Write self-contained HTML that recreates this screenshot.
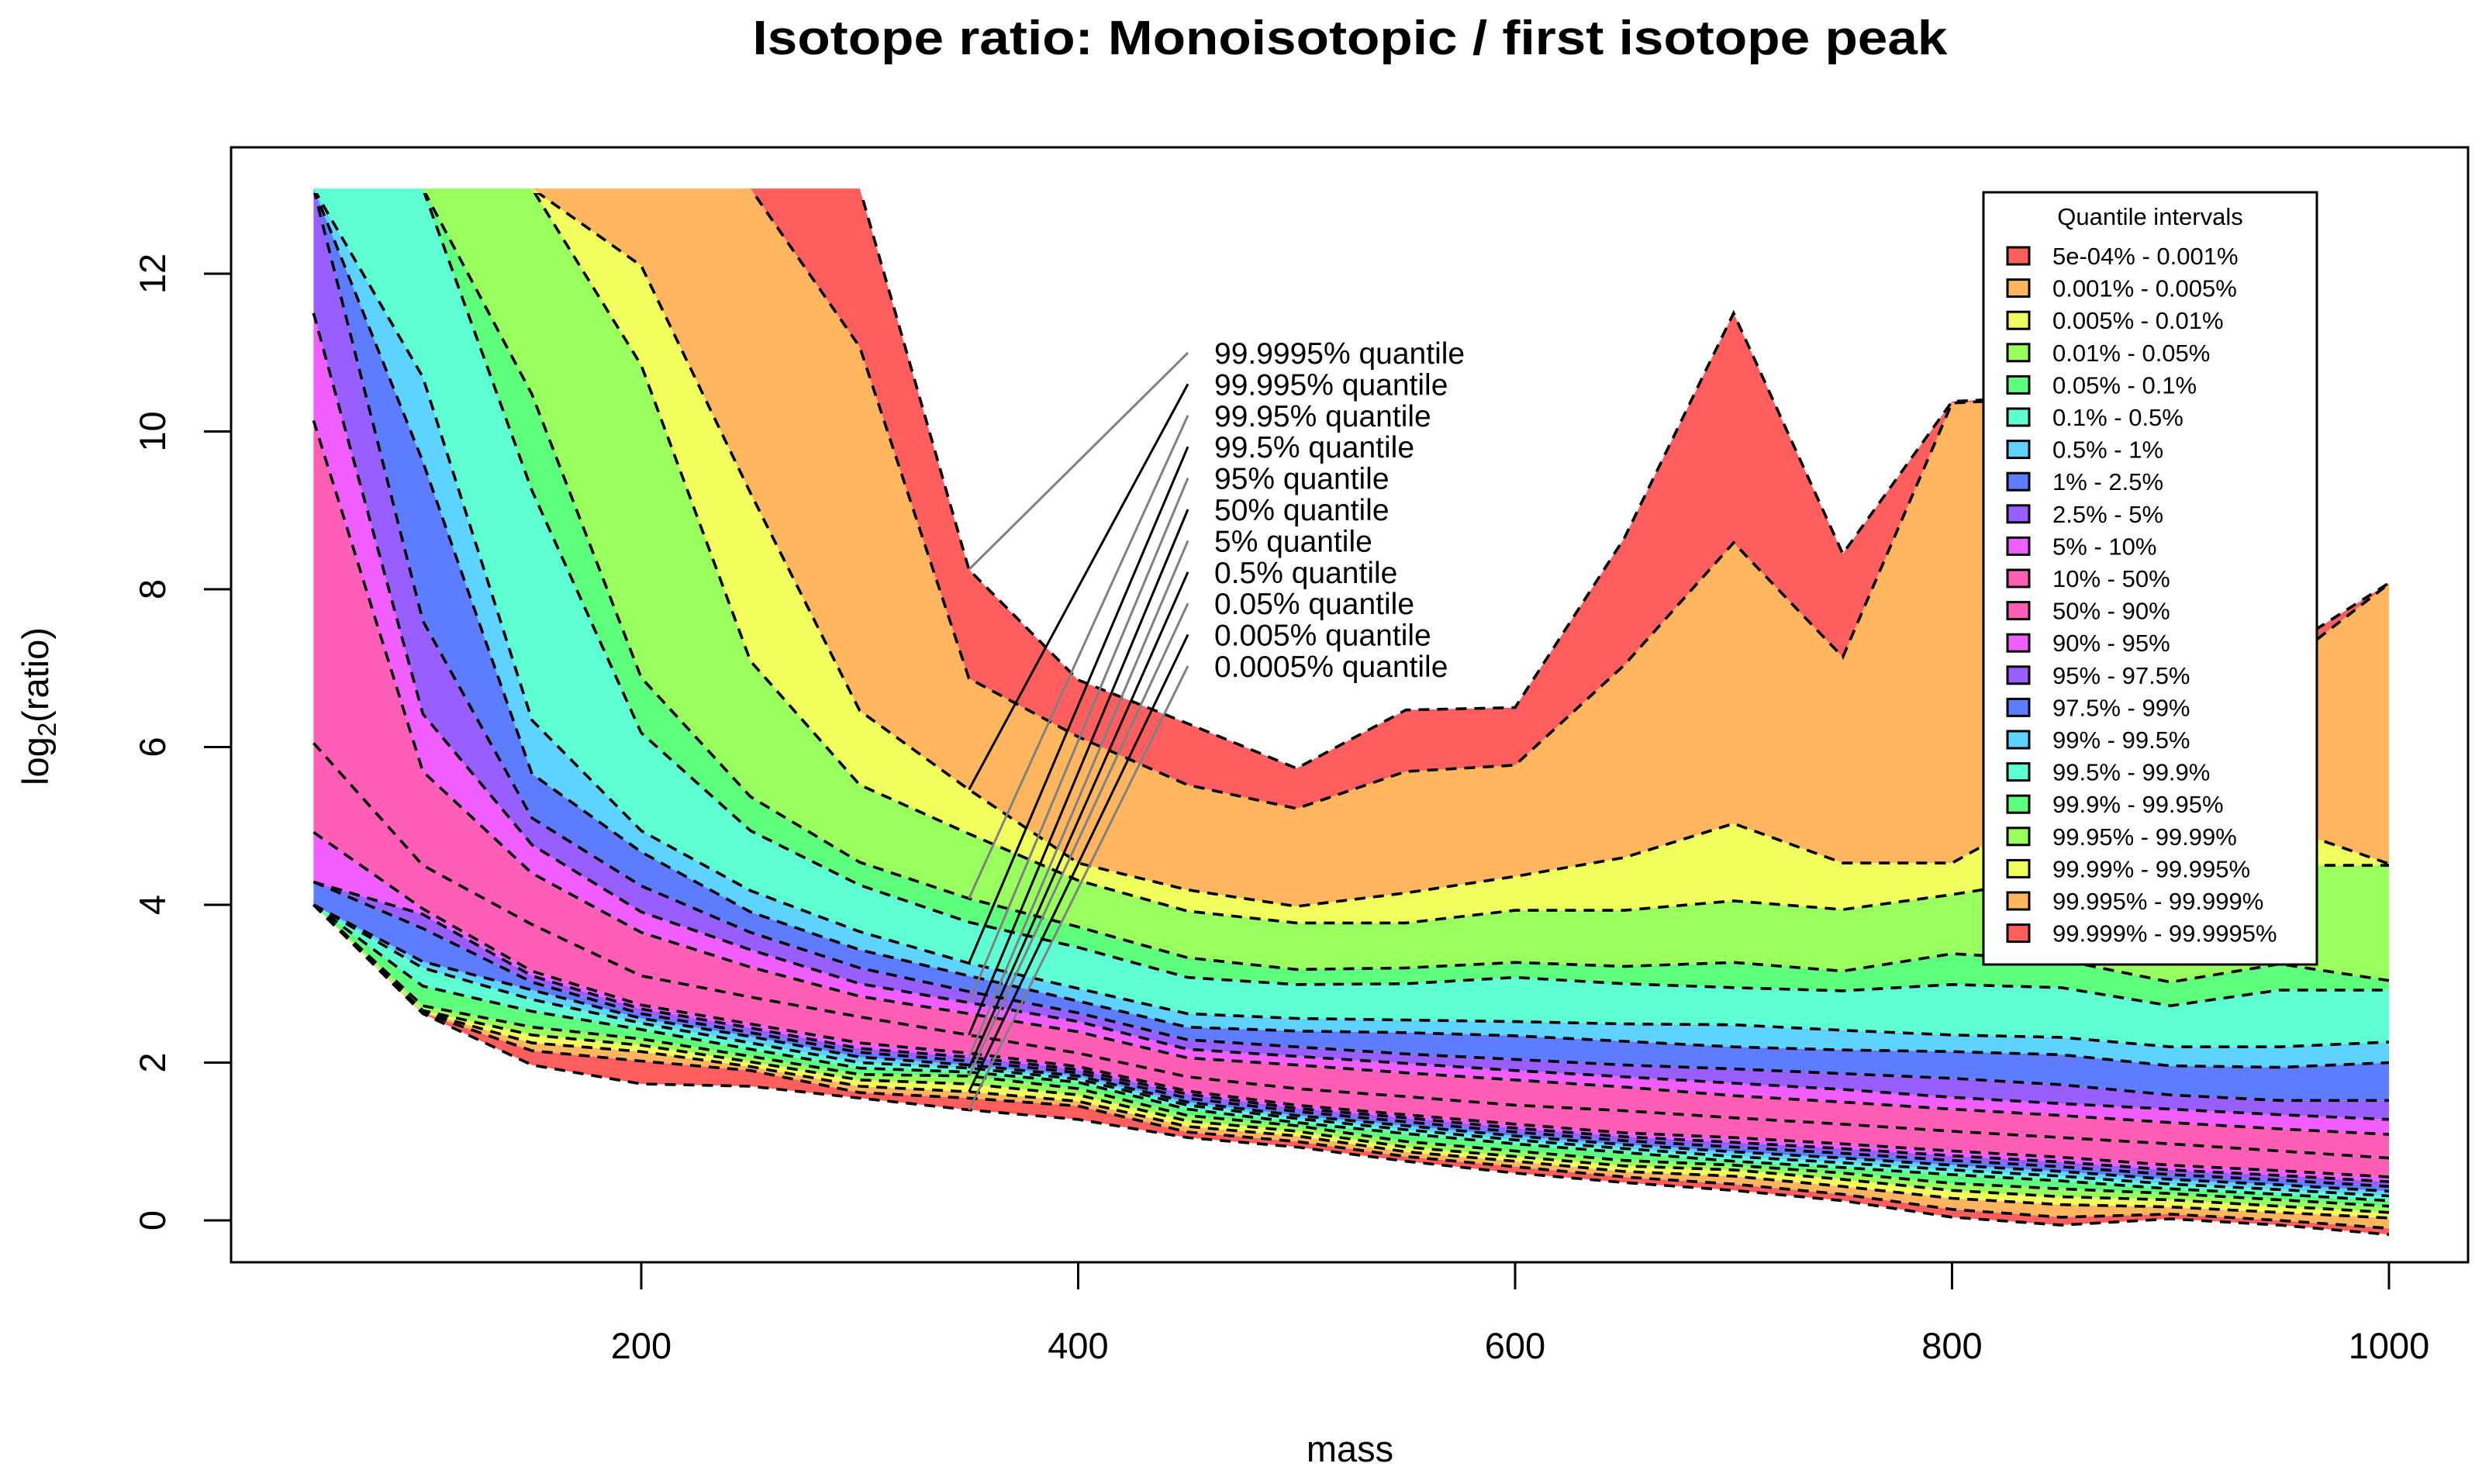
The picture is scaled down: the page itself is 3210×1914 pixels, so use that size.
<!DOCTYPE html>
<html><head><meta charset="utf-8"><title>Isotope ratio chart</title>
<style>html,body{margin:0;padding:0;background:#fff;}svg{display:block;font-family:"Liberation Sans",Arial,sans-serif;}</style>
</head><body>
<svg id="chart" xmlns="http://www.w3.org/2000/svg" width="3210" height="1914" viewBox="0 0 3210 1914">
<rect x="0" y="0" width="3210" height="1914" fill="#fff"/>
<defs>
<clipPath id="plotclip"><rect x="298" y="190" width="2885" height="1438"/></clipPath>
<clipPath id="lineclip"><rect x="298" y="249" width="2885" height="1379"/></clipPath>
</defs>
<text x="1741" y="70" text-anchor="middle" font-size="62" font-weight="bold" textLength="1541" lengthAdjust="spacingAndGlyphs">Isotope ratio: Monoisotopic / first isotope peak</text>
<g id="bands" clip-path="url(#plotclip)"></g>
<g id="lines" clip-path="url(#lineclip)"></g>
<g id="annot"></g>
<rect x="298" y="190" width="2885" height="1438" fill="none" stroke="#000" stroke-width="3"/>
<g id="xaxis"></g>
<g id="yaxis"></g>
<text x="1741" y="1885" text-anchor="middle" font-size="47">mass</text>
<text transform="translate(62,911) rotate(-90)" text-anchor="middle" font-size="47">log<tspan font-size="33" dy="10">2</tspan><tspan dy="-10">(ratio)</tspan></text>
<g id="legend"></g>
</svg>
<script>
const masses = [50,100,150,200,250,300,350,400,450,500,550,600,650,700,750,800,850,900,950,1000];
const q0 = [4.0,2.62,1.97,1.73,1.7,1.55,1.4,1.28,1.05,0.93,0.75,0.6,0.48,0.38,0.25,0.04,-0.06,0.02,-0.06,-0.18];
const q1 = [4.0,2.63,2.15,2.02,1.9,1.62,1.55,1.45,1.12,1.0,0.81,0.68,0.55,0.46,0.33,0.14,0.04,0.08,0.0,-0.1];
const q2 = [4.0,2.64,2.25,2.14,1.95,1.7,1.63,1.51,1.19,1.07,0.87,0.75,0.62,0.56,0.43,0.28,0.2,0.17,0.1,0.03];
const q3 = [4.0,2.66,2.35,2.22,2.01,1.78,1.73,1.59,1.26,1.13,0.93,0.81,0.69,0.64,0.52,0.38,0.3,0.26,0.18,0.1];
const q4 = [4.0,2.72,2.45,2.3,2.08,1.85,1.83,1.67,1.33,1.2,1.0,0.88,0.76,0.7,0.6,0.47,0.4,0.34,0.26,0.18];
const q5 = [4.0,2.97,2.65,2.42,2.17,1.93,1.88,1.75,1.41,1.24,1.1,0.97,0.86,0.75,0.67,0.58,0.5,0.4,0.33,0.25];
const q6 = [4.0,3.2,2.8,2.5,2.25,2.0,1.93,1.79,1.46,1.29,1.15,1.02,0.91,0.81,0.73,0.64,0.56,0.46,0.39,0.31];
const q7 = [4.0,3.28,2.92,2.56,2.33,2.07,1.97,1.83,1.5,1.33,1.2,1.07,0.96,0.87,0.79,0.7,0.62,0.52,0.45,0.37];
const q8 = [4.29,3.7,3.02,2.62,2.38,2.13,2.02,1.87,1.55,1.38,1.25,1.12,1.01,0.93,0.85,0.76,0.68,0.58,0.51,0.43];
const q9 = [4.29,3.88,3.1,2.68,2.44,2.18,2.07,1.91,1.6,1.42,1.3,1.17,1.06,0.99,0.91,0.82,0.74,0.64,0.57,0.49];
const q10 = [4.92,3.95,3.16,2.73,2.49,2.25,2.12,1.95,1.64,1.46,1.34,1.22,1.11,1.05,0.97,0.88,0.8,0.7,0.63,0.55];
const q11 = [6.05,4.5,3.75,3.1,2.83,2.58,2.35,2.12,1.82,1.67,1.57,1.46,1.39,1.3,1.22,1.13,1.05,0.97,0.88,0.79];
const q12 = [10.14,5.69,4.4,3.65,3.21,2.84,2.62,2.39,2.06,1.97,1.87,1.78,1.69,1.58,1.5,1.41,1.33,1.24,1.16,1.09];
const q13 = [11.5,6.42,4.76,3.91,3.43,3.0,2.76,2.52,2.17,2.08,1.99,1.9,1.82,1.74,1.66,1.56,1.48,1.41,1.34,1.28];
const q14 = [13.08,7.6,5.1,4.24,3.65,3.2,2.9,2.63,2.29,2.2,2.11,2.04,1.97,1.92,1.86,1.8,1.72,1.59,1.52,1.52];
const q15 = [13.08,9.62,5.66,4.67,3.91,3.43,3.1,2.78,2.45,2.4,2.38,2.34,2.27,2.2,2.16,2.14,2.1,1.96,1.94,2.0];
const q16 = [13.08,10.69,6.34,4.94,4.18,3.66,3.26,2.94,2.62,2.56,2.54,2.52,2.49,2.48,2.41,2.35,2.32,2.2,2.2,2.26];
const q17 = [13.08,13.08,9.25,6.18,4.94,4.25,3.78,3.46,3.08,2.99,3.0,3.08,3.0,2.95,2.91,2.99,2.95,2.72,2.92,2.92];
const q18 = [13.08,13.08,10.47,6.88,5.37,4.54,4.08,3.72,3.33,3.18,3.2,3.27,3.22,3.27,3.16,3.38,3.3,3.02,3.25,3.04];
const q19 = [13.08,13.08,13.08,10.84,7.09,5.52,4.9,4.31,3.92,3.77,3.77,3.93,3.93,4.05,3.94,4.13,4.35,4.45,4.5,4.5];
const q20 = [13.08,13.08,13.08,12.1,9.22,6.46,5.46,4.53,4.19,3.98,4.15,4.36,4.6,5.03,4.53,4.53,5.3,5.2,5.0,4.52];
const q21 = [13.08,13.08,13.08,13.08,13.08,11.07,6.87,6.13,5.52,5.22,5.69,5.77,7.04,8.59,7.14,10.36,10.43,8.9,7.0,8.07];
const q22 = [13.08,13.08,13.08,13.08,13.08,13.08,8.25,6.85,6.3,5.73,6.47,6.5,8.65,11.5,8.45,10.38,10.45,9.0,7.2,8.08];
const quantileSeries = [q0,q1,q2,q3,q4,q5,q6,q7,q8,q9,q10,q11,q12,q13,q14,q15,q16,q17,q18,q19,q20,q21,q22];
const intervalLabels = ["5e-04% - 0.001%","0.001% - 0.005%","0.005% - 0.01%","0.01% - 0.05%","0.05% - 0.1%","0.1% - 0.5%","0.5% - 1%","1% - 2.5%","2.5% - 5%","5% - 10%","10% - 50%","50% - 90%","90% - 95%","95% - 97.5%","97.5% - 99%","99% - 99.5%","99.5% - 99.9%","99.9% - 99.95%","99.95% - 99.99%","99.99% - 99.995%","99.995% - 99.999%","99.999% - 99.9995%"];
const annotLabels = ["99.9995% quantile","99.995% quantile","99.95% quantile","99.5% quantile","95% quantile","50% quantile","5% quantile","0.5% quantile","0.05% quantile","0.005% quantile","0.0005% quantile"];
const annotIndex = [22,20,18,16,13,11,9,6,4,2,0];
const annotMass = 350;
const xTicks = [200,400,600,800,1000];
const yTicks = [0,2,4,6,8,10,12];
const palette = ["#FF5E5E","#FFB65E","#F0FF5E","#99FF5E","#5EFF7C","#5EFFD3","#5ED3FF","#5E7CFF","#995EFF","#F05EFF","#FF5EB6"];

const NS = "http://www.w3.org/2000/svg";
function xS(m){ return 827 + (m - 200) * (3081 - 827) / 800; }
function yS(v){ return 1574 - v * (1574 - 353) / 12; }
function mk(tag, attrs, parent){ const e = document.createElementNS(NS, tag); for (const k in attrs) e.setAttribute(k, attrs[k]); parent.appendChild(e); return e; }

const bands = document.getElementById('bands');
for (let i = 0; i < quantileSeries.length - 1; i++) {
  const lo = quantileSeries[i], hi = quantileSeries[i+1];
  let pts = [];
  for (let j = 0; j < masses.length; j++) pts.push(xS(masses[j]).toFixed(1) + ',' + yS(hi[j]).toFixed(1));
  for (let j = masses.length - 1; j >= 0; j--) pts.push(xS(masses[j]).toFixed(1) + ',' + yS(lo[j]).toFixed(1));
  const p = mk('polygon', {points: pts.join(' '), fill: palette[Math.min(i, 21 - i)], stroke: 'none'}, bands);
  
  
}
const lines = document.getElementById('lines');
for (let i = 0; i < quantileSeries.length; i++) {
  const s = quantileSeries[i];
  const pts = masses.map((m, j) => xS(m).toFixed(1) + ',' + yS(s[j]).toFixed(1)).join(' ');
  const l = mk('polyline', {points: pts, fill: 'none', stroke: '#000', 'stroke-width': 3.6, 'stroke-dasharray': '14 10'}, lines);
  
  
}
const annot = document.getElementById('annot');
const mi = masses.indexOf(annotMass);
for (let k = 0; k < annotLabels.length; k++) {
  const ty = 455 + k * 40.4;
  const v = quantileSeries[annotIndex[k]][mi];
  const ln = mk('line', {x1: 1532, y1: ty, x2: xS(annotMass), y2: yS(v), stroke: (k % 2 === 0) ? '#808080' : '#000', 'stroke-width': 3}, annot);
  
  
  const t = mk('text', {x: 1566, y: ty + 14, 'font-size': 39}, annot);
  t.textContent = annotLabels[k];
  
  
}
const xa = document.getElementById('xaxis');
for (const v of xTicks) {
  const tk = mk('line', {x1: xS(v), y1: 1628, x2: xS(v), y2: 1663, stroke: '#000', 'stroke-width': 3}, xa);
  
  
  const t = mk('text', {x: xS(v), y: 1752, 'text-anchor': 'middle', 'font-size': 47}, xa);
  t.textContent = v;
  
  
}
const ya = document.getElementById('yaxis');
for (const v of yTicks) {
  const tk = mk('line', {x1: 263, y1: yS(v), x2: 298, y2: yS(v), stroke: '#000', 'stroke-width': 3}, ya);
  
  
  const t = mk('text', {transform: 'translate(213,' + yS(v).toFixed(1) + ') rotate(-90)', 'text-anchor': 'middle', 'font-size': 47}, ya);
  t.textContent = v;
  
  
}
const lg = document.getElementById('legend');
const lbox = mk('rect', {x: 2558, y: 248, width: 430, height: 996, fill: '#fff', stroke: '#000', 'stroke-width': 3}, lg);


const lt = mk('text', {x: 2773, y: 290, 'text-anchor': 'middle', 'font-size': 31}, lg);
lt.textContent = 'Quantile intervals';


for (let i = 0; i < intervalLabels.length; i++) {
  const cy = 330 + i * 41.6;
  const sw = mk('rect', {x: 2589, y: cy - 11, width: 28, height: 22, fill: palette[Math.min(i, 21 - i)], stroke: '#000', 'stroke-width': 3}, lg);
  
  
  const t = mk('text', {x: 2647, y: cy + 11, 'font-size': 31}, lg);
  t.textContent = intervalLabels[i];
  
  
}
</script>
</body></html>
